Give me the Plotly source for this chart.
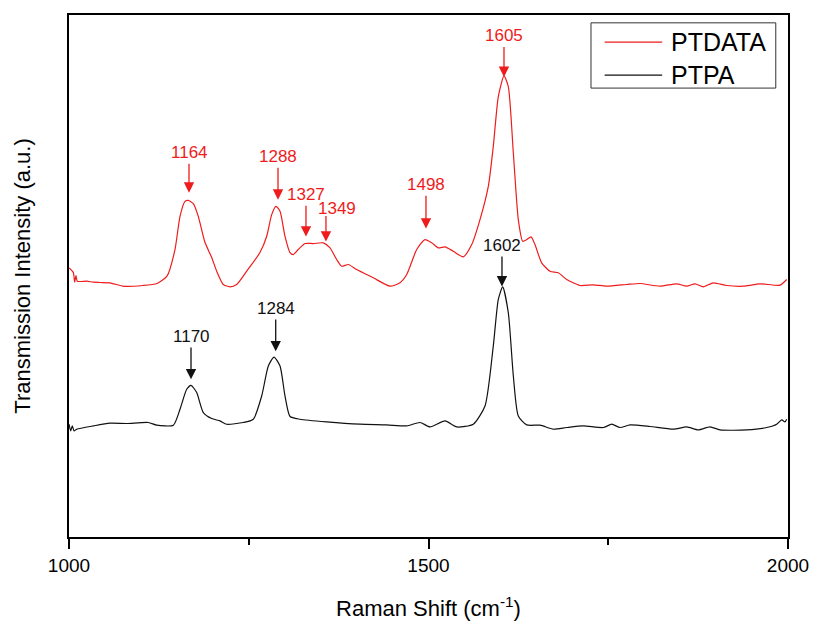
import plotly.graph_objects as go

# ---- data (arbitrary intensity units) ----
ptdata_x = [1000.4, 1006, 1007.9, 1009.7, 1011.5, 1024.6, 1033.8, 1043.1, 1057, 1075.1,
            1102.9, 1122.4, 1136.3, 1147.4, 1154.4, 1161.3, 1165.9, 1172.9, 1179.8, 1189.2,
            1198.5, 1205.4, 1214.6, 1223.9, 1233.2, 1247.1, 1265.6, 1275, 1281.9, 1287.9,
            1293.5, 1300.4, 1307.4, 1312, 1318.9, 1328.2, 1339.8, 1353.7, 1363, 1372.3,
            1379.3, 1388.5, 1400.1, 1423.2, 1446.5, 1460.4, 1469.7, 1483.6, 1495.1, 1504.5,
            1513.6, 1523, 1534.5, 1548.4, 1560.1, 1571.6, 1583.2, 1590.1, 1597.1, 1605,
            1611, 1618, 1624.9, 1631, 1636.6, 1642.6, 1648.1, 1657.4, 1669, 1680.5,
            1692.2, 1710.7, 1729.2, 1747.8, 1775.7, 1794.2, 1822, 1845.2, 1859.1, 1870.7,
            1882.2, 1896.1, 1914.7, 1937.8, 1961, 1988.9, 1998.2]
ptdata_y = [269.7, 265, 255.3, 262, 256.3, 256.3, 255.3, 255, 254.7, 251.3,
            252, 254, 261.3, 288, 321.3, 336.3, 337.3, 334, 321.3, 295,
            280, 266.3, 253, 250.7, 253, 266.3, 285, 301.3, 323, 331.3,
            326.3, 301.3, 285, 283, 288, 294, 294, 294.7, 289.7, 278,
            271.3, 273, 268, 259.7, 251.3, 254.7, 263, 288, 298, 294.7,
            289.7, 290.7, 286.3, 280.7, 293, 318, 351.3, 391.3, 441.3, 462,
            451.3, 384.7, 318, 296.3, 298, 300.7, 293, 274.7, 266.3, 264.7,
            258, 252, 252.7, 251.3, 253, 254, 251.3, 253.7, 251.3, 253.7,
            250.7, 254.7, 252, 251.3, 253.7, 252.3, 258]

ptpa_x = [1000, 1002.4, 1004.6, 1007, 1010.7, 1033.8, 1057, 1080.3, 1110.3, 1122,
          1145.1, 1154.4, 1163.7, 1169.7, 1177.6, 1186.8, 1198.5, 1210, 1219.3, 1242.4,
          1256.3, 1268, 1277.2, 1285.1, 1293.5, 1300.4, 1307.4, 1321.3, 1358.4, 1404.7,
          1441.9, 1469.7, 1488.2, 1502.1, 1523, 1539.2, 1562.3, 1578.6, 1590.1, 1597.1,
          1603.2, 1611, 1618, 1624.9, 1636.6, 1655.1, 1673.6, 1692.2, 1715.3, 1743.1,
          1754.8, 1766.3, 1780.3, 1808.1, 1840.5, 1859.1, 1875.2, 1891.5, 1905.4, 1942.6,
          1970.4, 1984.3, 1991.2, 1995.8, 1998.2]
ptpa_y = [113, 106.3, 111.3, 106.3, 108, 111.3, 114, 113.7, 114.7, 112,
          112, 128, 148, 152, 144.7, 124.7, 118.7, 116.3, 113, 114.7,
          118, 141.3, 171.3, 180.3, 171.3, 141.3, 120.7, 118, 115.3, 113,
          112.3, 111.3, 114.7, 110.3, 116.3, 110.3, 113, 131.3, 191.3, 238,
          250.7, 224.7, 161.3, 121.3, 112.3, 112, 108, 109.7, 111.3, 109.7,
          113, 109.7, 112.3, 110.7, 108, 110.3, 107.3, 110.3, 107.3, 107.3,
          109.7, 113, 117.3, 115.3, 118]

# peak labels: text, arrow x, text centre y, arrow tip y
red_labels = ["1164", "1288", "1327", "1498", "1605"]
red_arrow_x = [1166.9, 1290.7, 1329.6, 1496.5, 1605]
red_text_y = [385, 381, 343, 353, 502]
red_arrow_tip = [345, 338, 301, 309, 461]

# offset label (text not centred over its arrow)
off_label = "1349"
off_text_x = 1372.7
off_text_y = 329
off_arrow_x = 1357.4
off_arrow_tail = 323
off_arrow_tip = 296

blk_labels = ["1170", "1284", "1602"]
blk_arrow_x = [1169.7, 1287.5, 1602.2]
blk_text_y = [201, 229, 292]
blk_arrow_tip = [158, 186, 251]

x_ticks = [1000, 1500, 2000]
x_title = "Raman Shift (cm<sup>-1</sup>)"
y_title = "Transmission Intensity (a.u.)"
series_names = ["PTDATA", "PTPA"]

RED = "#ee1c1c"
BLACK = "#111111"
FONT = "Arial, Liberation Sans, sans-serif"

fig = go.Figure()
fig.add_trace(go.Scatter(x=ptdata_x, y=ptdata_y, mode="lines", name=series_names[0],
                         line=dict(color=RED, width=1.2, shape="spline", smoothing=0.6),
                         showlegend=False))
fig.add_trace(go.Scatter(x=ptpa_x, y=ptpa_y, mode="lines", name=series_names[1],
                         line=dict(color=BLACK, width=1.2, shape="spline", smoothing=0.6),
                         showlegend=False))

arrow_style = dict(showarrow=True, arrowhead=2, arrowsize=1.6, arrowwidth=1.3,
                   standoff=0, xref="x", yref="y", axref="x", ayref="y")
annotations = []
for labels, axx, ty, tip, col in [
    (red_labels, red_arrow_x, red_text_y, red_arrow_tip, RED),
    (blk_labels, blk_arrow_x, blk_text_y, blk_arrow_tip, BLACK),
]:
    for i in range(len(labels)):
        annotations.append(dict(x=axx[i], y=tip[i], ax=axx[i], ay=ty[i], text=labels[i],
                                arrowcolor=col, font=dict(family=FONT, size=17, color=col),
                                **arrow_style))

annotations.append(dict(x=off_text_x, y=off_text_y, xref="x", yref="y", text=off_label,
                        showarrow=False, font=dict(family=FONT, size=17, color=RED)))
annotations.append(dict(x=off_arrow_x, y=off_arrow_tip, ax=off_arrow_x, ay=off_arrow_tail,
                        text="", arrowcolor=RED, **arrow_style))

# custom legend (box, line samples, labels)
leg_colors = [RED, BLACK]
leg_y = [0.948, 0.885]
shapes = [dict(type="rect", xref="paper", yref="paper", x0=0.726, x1=0.983, y0=0.860, y1=0.985,
               line=dict(color="#333333", width=1), fillcolor="white", layer="above")]
for i in range(2):
    shapes.append(dict(type="line", xref="paper", yref="paper", x0=0.745, x1=0.825,
                       y0=leg_y[i], y1=leg_y[i], line=dict(color=leg_colors[i], width=1.2),
                       layer="above"))
    annotations.append(dict(x=0.834, y=leg_y[i], xref="paper", yref="paper", text=series_names[i],
                            showarrow=False, xanchor="left", yanchor="middle",
                            font=dict(family=FONT, size=25, color="black")))

fig.update_layout(
    width=813, height=621,
    margin=dict(l=69, r=25, t=15, b=84),
    paper_bgcolor="white", plot_bgcolor="white",
    font=dict(family=FONT, color="black"),
    annotations=annotations, shapes=shapes,
    showlegend=False,
)
fig.update_xaxes(range=[1000, 2000], tickvals=x_ticks, ticktext=[str(t) for t in x_ticks],
                 showline=True, linecolor="black", linewidth=2, mirror=True,
                 ticks="outside", ticklen=10, tickwidth=2, tickcolor="black",
                 minor=dict(dtick=250, tick0=1000, ticks="outside", ticklen=6, tickwidth=2,
                            tickcolor="black", showgrid=False),
                 showgrid=False, zeroline=False, automargin=False,
                 tickfont=dict(family=FONT, size=19),
                 title=dict(text=x_title, font=dict(family=FONT, size=22), standoff=29))
fig.update_yaxes(range=[0, 523], showticklabels=False, ticks="",
                 showline=True, linecolor="black", linewidth=2, mirror=True,
                 showgrid=False, zeroline=False, automargin=False,
                 title=dict(text=y_title, font=dict(family=FONT, size=22), standoff=30))

fig.write_html("out.html", config={"displayModeBar": False},
               post_script="document.body.style.margin='0px';")
